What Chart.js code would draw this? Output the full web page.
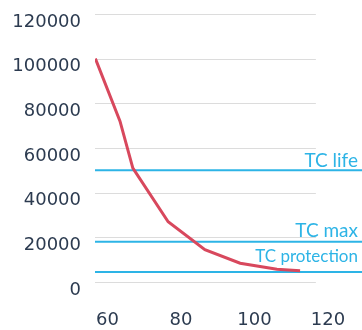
<!DOCTYPE html>
<html>
<head>
<meta charset="utf-8">
<script src="https://cdn.jsdelivr.net/npm/chart.js@4"></script>
<style>
  html, body { margin: 0; padding: 0; background: #fff; }
  #wrap { width: 362px; height: 330px; }
</style>
</head>
<body>
<div id="wrap"><canvas id="chart" width="362" height="330"></canvas></div>
<script>
// --- data ---
const curveX = [56.7, 63.4, 66.9, 76.5, 86.5, 96.1, 106.1, 112.4];
const curveY = [100000, 72000, 51000, 27000, 14500, 8400, 5700, 5000];

const limitNames = ["TC life", "TC max", "TC protection"];
const limitValues = [50000, 18000, 4500];

const xTicks = [60, 80, 100, 120];
const yTicks = [0, 20000, 40000, 60000, 80000, 100000, 120000];

const xMin = 56.6, xMax = 129.25, xGridEnd = 116.7;

const RED = "#d8485d";
const BLUE = "#2db4e6";
const TEXT = "#2c3b50";

// --- grid lines that stop short of the right edge ---
const shortGrid = {
  id: "shortGrid",
  beforeDatasetsDraw(chart) {
    const ctx = chart.ctx;
    const x = chart.scales.x, y = chart.scales.y;
    ctx.save();
    ctx.strokeStyle = "#dcdcdc";
    ctx.lineWidth = 1;
    yTicks.forEach(v => {
      const py = Math.round(y.getPixelForValue(v)) + 0.5;
      ctx.beginPath();
      ctx.moveTo(chart.chartArea.left, py);
      ctx.lineTo(x.getPixelForValue(xGridEnd), py);
      ctx.stroke();
    });
    ctx.restore();
  }
};

// --- labels over the limit lines ---
const labelSizes = [19, 19, 17];
const labelLift = [3, 5, 10];
const limitLabels = {
  id: "limitLabels",
  afterDatasetsDraw(chart) {
    const ctx = chart.ctx;
    const y = chart.scales.y;
    ctx.save();
    ctx.fillStyle = BLUE;
    ctx.textAlign = "right";
    ctx.textBaseline = "alphabetic";
    limitNames.forEach((name, i) => {
      ctx.font = labelSizes[i] + "px Lato";
      ctx.fillText(name, 358, y.getPixelForValue(limitValues[i]) - labelLift[i]);
    });
    ctx.restore();
  }
};

const datasets = [{
  data: curveX.map((x, i) => ({ x: x, y: curveY[i] })),
  borderColor: RED,
  borderWidth: 3,
  pointRadius: 0,
  tension: 0,
  fill: false
}];
limitValues.forEach(v => {
  datasets.push({
    data: [{ x: xMin, y: v }, { x: xMax, y: v }],
    borderColor: BLUE,
    borderWidth: 2,
    pointRadius: 0,
    fill: false
  });
});

new Chart(document.getElementById("chart"), {
  type: "line",
  data: { datasets: datasets },
  options: {
    responsive: false,
    animation: false,
    layout: { padding: { top: 14, right: 0, left: 0, bottom: 0 } },
    plugins: { legend: { display: false }, tooltip: { enabled: false } },
    scales: {
      x: {
        type: "linear",
        min: xMin,
        max: xMax,
        afterBuildTicks: s => { s.ticks = xTicks.map(v => ({ value: v })); },
        afterFit: s => { s.height = 48; s.paddingLeft = 0; s.paddingRight = 0; },
        grid: { display: false, drawTicks: false },
        border: { display: false },
        ticks: {
          padding: 28,
          color: TEXT,
          font: { family: "DejaVu Sans", size: 18 },
          maxRotation: 0,
          callback: v => String(v)
        }
      },
      y: {
        min: 0,
        max: 120000,
        afterBuildTicks: s => { s.ticks = yTicks.map(v => ({ value: v })); },
        afterFit: s => { s.width = 95; s.paddingTop = 0; s.paddingBottom = 0; },
        grid: { display: false, drawTicks: false },
        border: { display: false },
        ticks: {
          padding: 14,
          labelOffset: 8,
          color: TEXT,
          font: { family: "DejaVu Sans", size: 18 },
          callback: v => String(v)
        }
      }
    }
  },
  plugins: [shortGrid, limitLabels]
});
</script>
</body>
</html>
